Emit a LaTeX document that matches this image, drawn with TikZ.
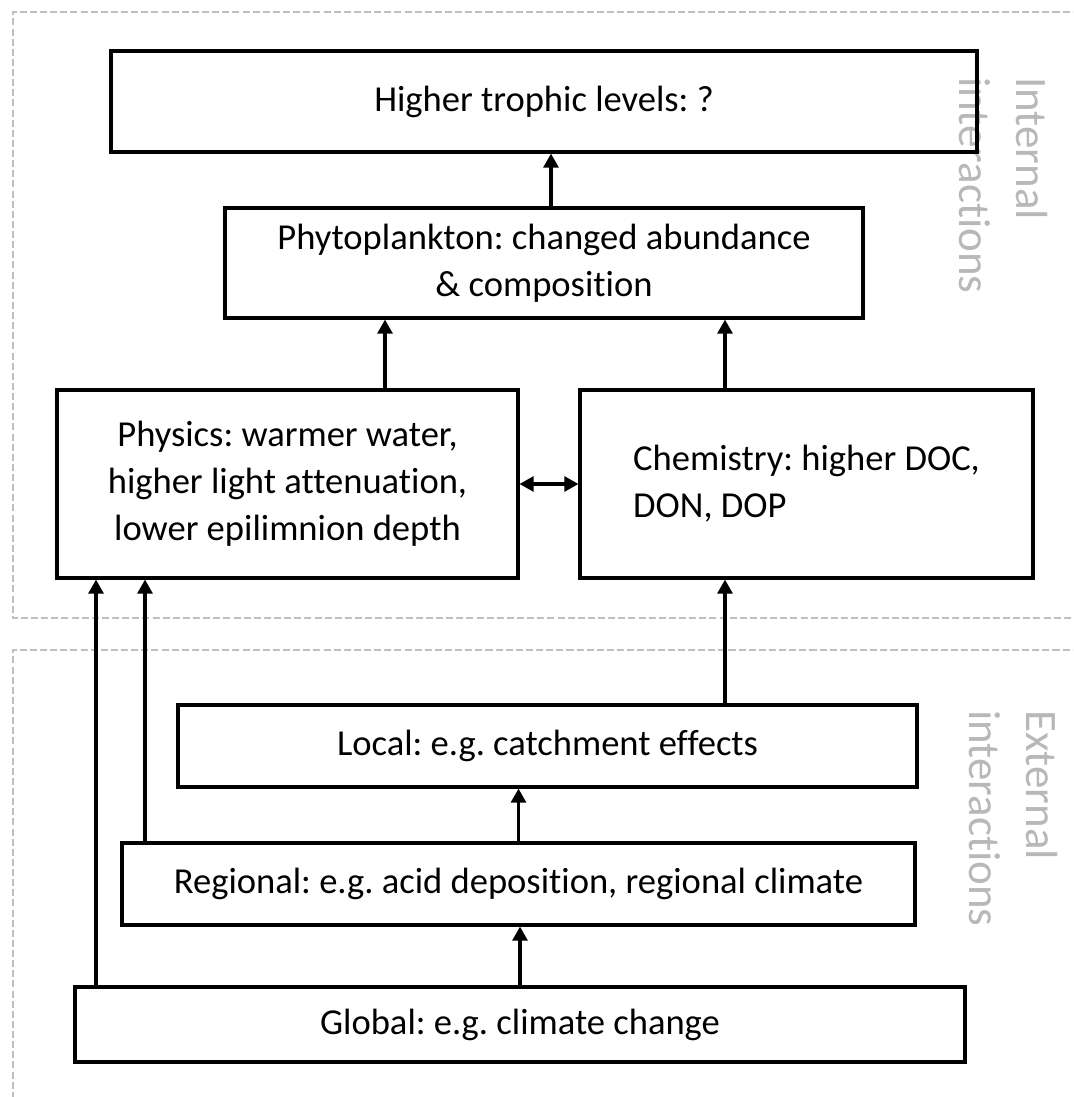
\documentclass[tikz,border=0pt]{standalone}
\usepackage{fontspec}
\setmainfont{Carlito}[Ligatures=NoCommon]
\usetikzlibrary{calc, arrows.meta}
\frenchspacing

\begin{document}
\begin{tikzpicture}[x=0.025cm, y=-0.025cm,
		box/.style={draw, line width=2.2pt, inner sep=0pt, align=center, font=\fontsize{26}{33.5}\selectfont},
		arr/.style={line width=2.2pt, -{Triangle[length=0.35cm, width=0.37cm]}},
		zone/.style={draw=black!25, line width=1.4pt, dash pattern=on 5pt off 2.2pt},
		side/.style={text=black!28, rotate=-90, anchor=north west, inner sep=0pt, align=left, font=\fontsize{32}{40.4}\selectfont}]
			\def\pxl{0.025cm}
			\def\xMAX{1100}

			\clip (0,0) rectangle (1073,1097);

			% dashed zones
			\begin{scope}
				\draw[zone] (\xMAX,12) -- (13,12) -- (13,618) -- (\xMAX,618);
				\draw[zone] (\xMAX,650) -- (13,650) -- (13,1120);
				\node[side] (internal) at (1048,77) {Internal\\interactions};
				\node[side] (external) at (1058,710) {External\\interactions};
			\end{scope}

			% boxes
			\begin{scope}
				\node[box, minimum width=866*\pxl, minimum height=101*\pxl] (higher) at (544,101.5) {Higher trophic levels: ?};
				\node[box, minimum width=638*\pxl, minimum height=110*\pxl] (phyto) at (544,263) {Phytoplankton: changed abundance\\\& composition};
				\node[box, minimum width=461*\pxl, minimum height=188*\pxl] (physics) at (287.5,484) {Physics: warmer water,\\higher light attenuation,\\lower epilimnion depth};
				\node[box, minimum width=453*\pxl, minimum height=188*\pxl, align=left] (chem) at (806.5,484) {Chemistry: higher DOC,\\DON, DOP};
				\node[box, minimum width=739*\pxl, minimum height=82*\pxl] (local) at (547.5,746) {Local: e.g. catchment effects};
				\node[box, minimum width=793*\pxl, minimum height=82*\pxl] (regional) at (518.5,884) {Regional: e.g. acid deposition, regional climate};
				\node[box, minimum width=890*\pxl, minimum height=75*\pxl] (global) at (520,1024.5) {Global: e.g. climate change};
			\end{scope}

			% arrows
			\begin{scope}
				\coordinate (gp) at ($(global.north)+(-424,0)$);
				\coordinate (rp) at ($(regional.north)+(-373.5,0)$);
				\coordinate (lc) at ($(local.north)+(177.5,0)$);
				\coordinate (pp) at ($(physics.north)+(97.5,0)$);
				\coordinate (ph) at ($(phyto.north)+(7,0)$);
				\draw[arr] (gp) -- (gp |- physics.south);
				\draw[arr] (rp) -- (rp |- physics.south);
				\draw[arr] (global.north) -- (global.north |- regional.south);
				\draw[arr] (regional.north) -- (regional.north |- local.south);
				\draw[arr] (lc) -- (lc |- chem.south);
				\draw[arr] (lc |- chem.north) -- (lc |- phyto.south);
				\draw[arr] (pp) -- (pp |- phyto.south);
				\draw[arr] (ph) -- (ph |- higher.south);
				\draw[arr, {Triangle[length=0.35cm, width=0.37cm]}-{Triangle[length=0.35cm, width=0.37cm]}] (physics.east) -- (chem.west);
			\end{scope}
		\end{tikzpicture}
\end{document}
